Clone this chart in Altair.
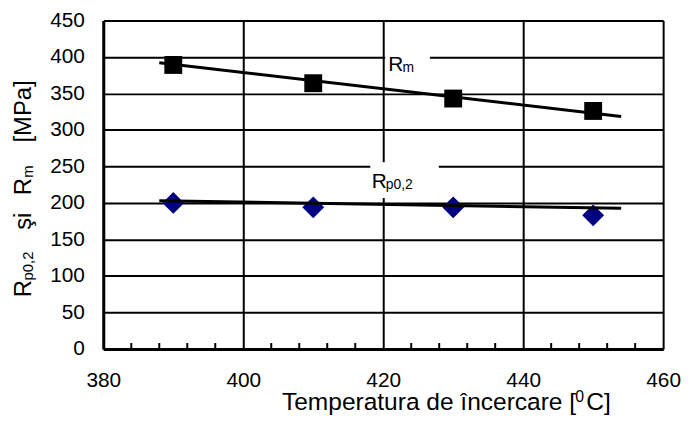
import altair as alt
import pandas as pd

# ---- data ----
temperature = [390, 410, 430, 450]
rm_values = [389, 364, 343, 326]
rp_values = [200, 194, 194, 183]
trend_x = [388, 454]
rm_trend = [392, 318.5]
rp_trend = [203, 192.6]
x_ticks = [380, 400, 420, 440, 460]
y_ticks = [0, 50, 100, 150, 200, 250, 300, 350, 400, 450]
minor_ticks = [384, 388, 392, 396, 404, 408, 412, 416,
               424, 428, 432, 436, 444, 448, 452, 456]

FONT = "Liberation Sans"
W, H = 564, 331

x_scale = alt.Scale(domain=[380, 460], nice=False, zero=False)
y_scale = alt.Scale(domain=[0, 450], nice=False)

points_df = pd.DataFrame({"t": temperature, "rm": rm_values, "rp": rp_values})
trend_df = pd.DataFrame({"t": trend_x, "rm": rm_trend, "rp": rp_trend})
minor_df = pd.DataFrame({"t": minor_ticks})
one_df = pd.DataFrame({"k": [0]})

x_axis = alt.Axis(values=x_ticks, grid=True, gridColor="black", gridWidth=2,
                  gridOpacity=1, domainColor="black", domainWidth=3,
                  ticks=False, tickSize=0, labelFont=FONT, labelFontSize=21,
                  labelColor="black", labelPadding=21, labelFlush=False,
                  title=None)
y_axis = alt.Axis(values=y_ticks, grid=True, gridColor="black", gridWidth=2,
                  gridOpacity=1, domainColor="black", domainWidth=3,
                  ticks=False, tickSize=0, labelFont=FONT, labelFontSize=21,
                  labelColor="black", labelPadding=19, title=None)

X = alt.X("t:Q", scale=x_scale, axis=x_axis)

rm_pts = alt.Chart(points_df).mark_point(
    shape="square", size=324, filled=True, color="black", opacity=1
).encode(x=X, y=alt.Y("rm:Q", scale=y_scale, axis=y_axis))

rp_pts = alt.Chart(points_df).mark_point(
    shape="diamond", size=484, filled=True, color="#000080", opacity=1
).encode(x=X, y=alt.Y("rp:Q", scale=y_scale, axis=y_axis))

rm_line = alt.Chart(trend_df).mark_line(color="black", strokeWidth=3).encode(
    x=X, y=alt.Y("rm:Q", scale=y_scale, axis=y_axis))
rp_line = alt.Chart(trend_df).mark_line(color="black", strokeWidth=3).encode(
    x=X, y=alt.Y("rp:Q", scale=y_scale, axis=y_axis))

minor = alt.Chart(minor_df).mark_rule(color="black", strokeWidth=2).encode(
    x=X, y=alt.value(H), y2=alt.value(H - 6))


def box(x1, x2, y1, y2):
    return alt.Chart(one_df).mark_rect(color="white", opacity=1).encode(
        x=alt.value(x1), x2=alt.value(x2), y=alt.value(y1), y2=alt.value(y2))


def txt(s, x, y, size, angle=0):
    return alt.Chart(one_df).mark_text(
        text=s, font=FONT, fontSize=size, color="black", align="left",
        baseline="alphabetic", angle=angle
    ).encode(x=alt.value(x), y=alt.value(y))


labels = [
    box(284, 329, 28, 59),
    txt("R", 287, 50.5, 21),
    txt("m", 301.5, 51.5, 14),
    box(269, 338, 143, 179),
    txt("R", 270.5, 169, 21),
    txt("p0,2", 284.5, 170, 14),
    # y title (rotated)
    txt("R", -73, 279, 24, 270),
    txt("p0,2", -71, 262, 15, 270),
    txt("şi", -73, 211, 24, 270),
    txt("R", -73, 176, 24, 270),
    txt("m", -71, 158.5, 15, 270),
    txt("[MPa]", -73, 123, 24, 270),
    # x title
    txt("Temperatura de încercare [", 180, 392, 24.7),
    txt("0", 475.5, 384.5, 16),
    txt("C]", 486.5, 392, 24.7),
]

chart = alt.layer(
    minor, rm_pts, rp_pts, rm_line, rp_line, *labels
).properties(
    width=W, height=H,
    autosize=alt.AutoSizeParams(type="none"),
    padding={"left": 96, "top": 11, "right": 20, "bottom": 66},
).configure_view(stroke=None)

chart.save("out.html", embed_options={"renderer": "svg", "actions": False})
